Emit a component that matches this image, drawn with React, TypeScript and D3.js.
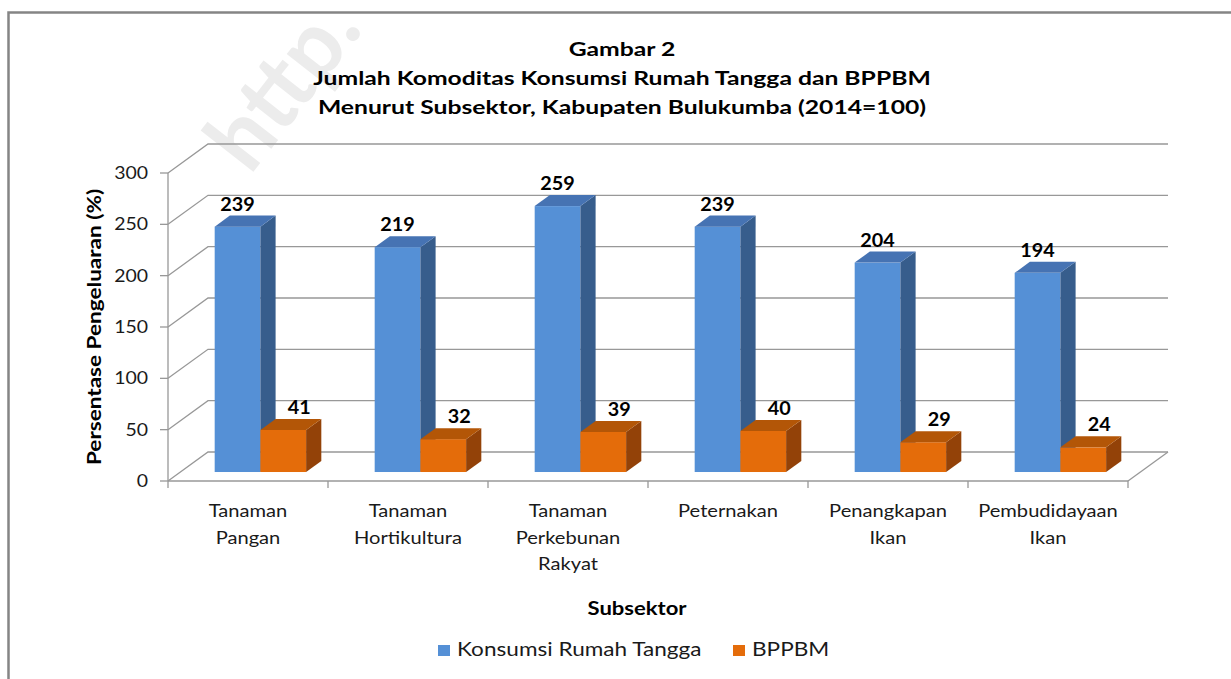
import React from 'react';
import * as d3 from 'd3';

// chart data
const categories = ['Tanaman Pangan', 'Tanaman Hortikultura', 'Tanaman Perkebunan Rakyat', 'Peternakan', 'Penangkapan Ikan', 'Pembudidayaan Ikan'];
const categoryLines = [['Tanaman', 'Pangan'], ['Tanaman', 'Hortikultura'], ['Tanaman', 'Perkebunan', 'Rakyat'], ['Peternakan'], ['Penangkapan', 'Ikan'], ['Pembudidayaan', 'Ikan']];
const seriesNames = ['Konsumsi Rumah Tangga', 'BPPBM'];
const konsumsi = [239, 219, 259, 239, 204, 194];
const bppbm = [41, 32, 39, 40, 29, 24];
const yTicks = [0, 50, 100, 150, 200, 250, 300];
const titleLines = ['Gambar 2', 'Jumlah  Komoditas Konsumsi Rumah Tangga dan BPPBM', 'Menurut Subsektor, Kabupaten  Bulukumba (2014=100)'];

const W = 1231;
const H = 679;
const FONT = 'Lato, "Open Sans", sans-serif';

// front plane of the floor / side wall
const left = 168;
const right = 1128;
const bottom = 481;
const top = 173;
// depth of the 3D box
const depthX = 40;
const depthY = -29;
const barDepth0 = 0.31;
const barDepth1 = 0.69;

const colors = [
  { front: '#5590D6', top: '#4673B3', side: '#375D8C' },
  { front: '#E46C0A', top: '#B35607', side: '#934208' },
];

export default function App() {
  const x = d3.scaleBand<string>().domain(categories).range([left, right]).paddingInner(0).paddingOuter(0);
  const xs = d3.scaleBand<string>().domain(seriesNames).range([0, x.bandwidth()]).paddingInner(0).paddingOuter(0.75);
  const y = d3.scaleLinear().domain([0, 300]).range([bottom, top]);
  const values = [konsumsi, bppbm];

  const bdx = (barDepth1 - barDepth0) * depthX;
  const bdy = (barDepth1 - barDepth0) * depthY;
  const offX = barDepth0 * depthX;
  const offY = barDepth0 * depthY;
  const w = xs.bandwidth();
  const labelShift = [0, 16];

  const pts = (p: number[][]) => p.map((d) => d.join(',')).join(' ');
  const grid = '#989898';

  const bars: React.ReactNode[] = [];
  const labels: React.ReactNode[] = [];
  categories.forEach((c, i) => {
    seriesNames.forEach((s, j) => {
      const v = values[j][i];
      const fx = (x(c) as number) + (xs(s) as number) + offX;
      const yb = bottom + offY;
      const yt = y(v) + offY;
      const col = colors[j];
      bars.push(
        <g key={`b${i}-${j}`}>
          <rect x={fx} y={yt} width={w} height={yb - yt} fill={col.front} />
          <polygon points={pts([[fx + w, yt], [fx + w + bdx, yt + bdy], [fx + w + bdx, yb + bdy], [fx + w, yb]])} fill={col.side} />
          <polygon points={pts([[fx, yt], [fx + bdx, yt + bdy], [fx + w + bdx, yt + bdy], [fx + w, yt]])} fill={col.top} />
        </g>
      );
      labels.push(
        <text key={`l${i}-${j}`} transform={`translate(${fx + w / 2 + labelShift[j]},${yt + bdy - 5}) scale(1.1,1)`}
          textAnchor="middle" fontFamily={FONT} fontWeight="bold" fontSize={18} fill="#000">{v}</text>
      );
    });
  });

  return (
    <svg width={W} height={H} style={{ position: 'absolute', left: 0, top: 0, background: '#fff' }}>
      {/* faint watermark */}
      <text transform="translate(250,176) rotate(-52)" fontFamily={FONT} fontWeight="bold" fontSize={90} fill="#ececec">http.</text>

      {/* frame */}
      <path d={`M8.5,${H} V12.5 H${W}`} fill="none" stroke="#858585" strokeWidth={2.5} />

      {/* title */}
      {titleLines.map((t, i) => (
        <text key={t} transform={`translate(622,${56 + i * 29}) scale(1.3,1)`} textAnchor="middle" fontFamily={FONT} fontWeight="bold" fontSize={19} fill="#000">{t}</text>
      ))}

      {/* walls and floor */}
      <g stroke={grid} strokeWidth={1.3} fill="none">
        {yTicks.map((t) => (
          <polyline key={t} points={pts([[left, y(t)], [left + depthX, y(t) + depthY], [right + depthX, y(t) + depthY]])} />
        ))}
        <line x1={left} x2={right} y1={bottom} y2={bottom} />
        <line x1={right} x2={right + depthX} y1={bottom} y2={bottom + depthY} />
        <line x1={left} x2={left} y1={top} y2={bottom} />
        {yTicks.map((t) => (
          <line key={`yt${t}`} x1={left - 8} x2={left} y1={y(t)} y2={y(t)} />
        ))}
        {[...categories.map((c) => x(c) as number), right].map((p, i) => (
          <line key={`xt${i}`} x1={p} x2={p} y1={bottom} y2={bottom + 7} />
        ))}
      </g>

      {/* y tick labels */}
      {yTicks.map((t) => (
        <text key={`ytl${t}`} transform={`translate(148,${y(t) + 6}) scale(1.18,1)`} textAnchor="end" fontFamily={FONT} fontSize={16.5} fill="#1a1a1a">{t}</text>
      ))}

      {bars}
      {labels}

      {/* category labels */}
      {categories.map((c, i) => (
        <g key={`cl${i}`}>
          {categoryLines[i].map((ln, k) => (
            <text key={ln + k} transform={`translate(${(x(c) as number) + x.bandwidth() / 2},${517 + k * 26.5}) scale(1.15,1)`}
              textAnchor="middle" fontFamily={FONT} fontSize={17.5} fill="#1a1a1a">{ln}</text>
          ))}
        </g>
      ))}

      {/* axis titles */}
      <text transform="translate(101,327) rotate(-90) scale(1.22,1)" textAnchor="middle" fontFamily={FONT} fontWeight="bold" fontSize={18.5} fill="#000">Persentase Pengeluaran (%)</text>
      <text transform="translate(637,615) scale(1.16,1)" textAnchor="middle" fontFamily={FONT} fontWeight="bold" fontSize={19} fill="#000">Subsektor</text>

      {/* legend */}
      {seriesNames.map((s, j) => {
        const lx = j === 0 ? 438 : 733;
        return (
          <g key={`lg${j}`}>
            <rect x={lx} y={645} width={12} height={11} fill={colors[j].front} />
            <text transform={`translate(${lx + 19},656) scale(1.13,1)`} fontFamily={FONT} fontSize={20} fill="#1a1a1a">{s}</text>
          </g>
        );
      })}
    </svg>
  );
}
